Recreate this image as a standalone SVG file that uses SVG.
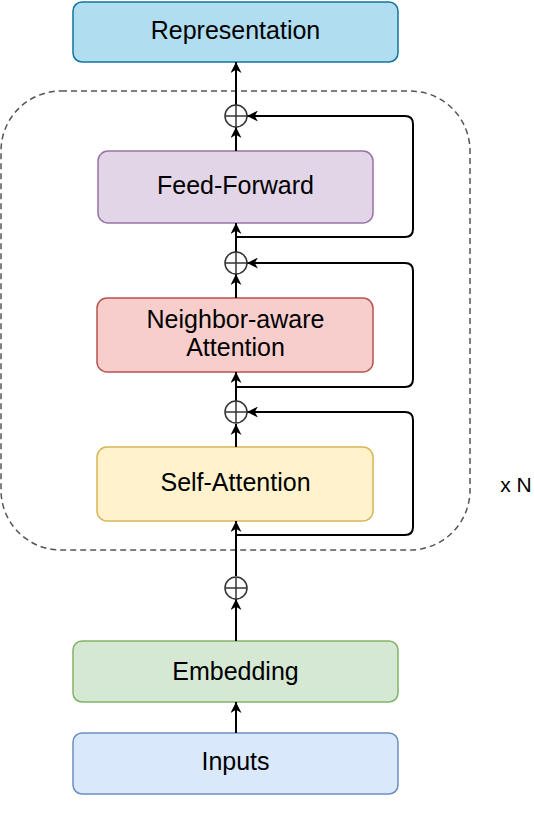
<svg xmlns="http://www.w3.org/2000/svg" width="534" height="822" viewBox="0 0 534 822">
<defs>
<style>
.box{stroke-width:1.5}
.lbl{font-family:"Liberation Sans",Arial,sans-serif;font-size:25px;fill:#000;text-anchor:middle}
.ln{stroke:#000;stroke-width:2;fill:none}
.sum circle{fill:#fff;stroke:#333;stroke-width:1.5}
.sum line{stroke:#333;stroke-width:1.5}
</style>
<marker id="arr" viewBox="0 0 10 10" refX="10" refY="5" markerWidth="11" markerHeight="11" markerUnits="userSpaceOnUse" orient="auto">
<path d="M0,0 L10,5 L0,10 L3,5 Z" fill="#000"/>
</marker>
</defs>
<rect width="534" height="822" fill="#fff"/>

<g id="container">
<rect x="1" y="91" width="469" height="459" rx="60" ry="60" fill="none" stroke="#555" stroke-width="1.5" stroke-dasharray="6 4"/>
<text x="516" y="492" class="lbl" style="font-size:21px">x N</text>
</g>

<g id="representation">
<rect class="box" x="73" y="2" width="325" height="60" rx="9" fill="#b1ddf0" stroke="#10739e"/>
<text class="lbl" x="235.5" y="39">Representation</text>
</g>
<g id="feed-forward">
<rect class="box" x="98" y="151" width="275" height="72" rx="10" fill="#e1d5e7" stroke="#9673a6"/>
<text class="lbl" x="235.5" y="194">Feed-Forward</text>
</g>
<g id="neighbor-aware-attention">
<rect class="box" x="97" y="298" width="276" height="74" rx="10" fill="#f8cecc" stroke="#b85450"/>
<text class="lbl" x="235.5" y="328">Neighbor-aware</text>
<text class="lbl" x="235.5" y="356">Attention</text>
</g>
<g id="self-attention">
<rect class="box" x="97" y="447" width="276" height="74" rx="10" fill="#fff2cc" stroke="#d6b656"/>
<text class="lbl" x="235.5" y="491">Self-Attention</text>
</g>
<g id="embedding">
<rect class="box" x="73" y="641" width="325" height="61" rx="9" fill="#d5e8d4" stroke="#82b366"/>
<text class="lbl" x="235.5" y="680">Embedding</text>
</g>
<g id="inputs">
<rect class="box" x="73" y="733" width="325" height="61" rx="9" fill="#dae8fc" stroke="#6c8ebf"/>
<text class="lbl" x="235.5" y="770">Inputs</text>
</g>

<g id="connectors">
<line class="ln" x1="236" y1="105" x2="236" y2="62" marker-end="url(#arr)"/>
<line class="ln" x1="236" y1="151" x2="236" y2="127" marker-end="url(#arr)"/>
<line class="ln" x1="236" y1="252" x2="236" y2="223" marker-end="url(#arr)"/>
<line class="ln" x1="236" y1="298" x2="236" y2="274" marker-end="url(#arr)"/>
<line class="ln" x1="236" y1="401" x2="236" y2="372" marker-end="url(#arr)"/>
<line class="ln" x1="236" y1="447" x2="236" y2="424" marker-end="url(#arr)"/>
<line class="ln" x1="236" y1="576" x2="236" y2="521" marker-end="url(#arr)"/>
<line class="ln" x1="236" y1="641" x2="236" y2="599" marker-end="url(#arr)"/>
<line class="ln" x1="236" y1="733" x2="236" y2="702" marker-end="url(#arr)"/>
<path class="ln" d="M236,237 H405 Q413,237 413,229 V124 Q413,116 405,116 H247" marker-end="url(#arr)"/>
<path class="ln" d="M236,387 H405 Q413,387 413,379 V271 Q413,263 405,263 H247" marker-end="url(#arr)"/>
<path class="ln" d="M236,535 H405 Q413,535 413,527 V420 Q413,412 405,412 H247" marker-end="url(#arr)"/>
</g>

<g id="add1" class="sum"><circle cx="236" cy="116" r="11"/><line x1="225" y1="116" x2="247" y2="116"/><line x1="236" y1="105" x2="236" y2="127"/></g>
<g id="add2" class="sum"><circle cx="236" cy="263" r="11"/><line x1="225" y1="263" x2="247" y2="263"/><line x1="236" y1="252" x2="236" y2="274"/></g>
<g id="add3" class="sum"><circle cx="236" cy="412" r="11"/><line x1="225" y1="412" x2="247" y2="412"/><line x1="236" y1="401" x2="236" y2="423"/></g>
<g id="add4" class="sum"><circle cx="236" cy="588" r="11"/><line x1="225" y1="588" x2="247" y2="588"/><line x1="236" y1="577" x2="236" y2="599"/></g>
</svg>
